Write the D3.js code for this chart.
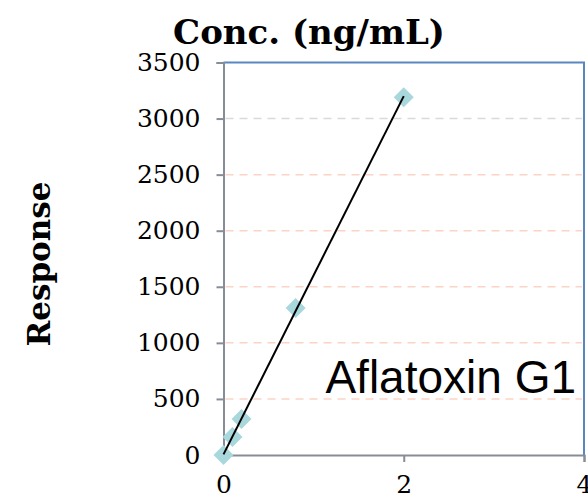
<!DOCTYPE html>
<html><head><meta charset="utf-8">
<script src="https://cdn.jsdelivr.net/npm/d3@7"></script>
<style>html,body{margin:0;padding:0;background:#fff;}</style>
</head><body>
<script>
const concValues = [0, 0.1, 0.2, 0.8, 2];
const responseValues = [0, 160, 320, 1310, 3190];
const yTicks = [0, 500, 1000, 1500, 2000, 2500, 3000, 3500];
const xTicks = [0, 2, 4];
const titleText = "Conc. (ng/mL)";
const yLabel = "Response";
const seriesLabel = "Aflatoxin G1";

const W = 588, H = 498;
const m = {left: 223.5, right: 4, top: 62.5, bottom: 43};
const svg = d3.select("body").append("svg").attr("width", W).attr("height", H);
const x = d3.scaleLinear().domain([0, 4]).range([m.left, W - m.right]);
const y = d3.scaleLinear().domain([0, 3500]).range([H - m.bottom, m.top]);
const serif = "DejaVu Serif";

// gridlines
svg.append("g").selectAll("line").data(yTicks.filter(d => d > 0 && d < 3500)).join("line")
  .attr("x1", x(0) + 2).attr("x2", x(4) - 2)
  .attr("y1", d => y(d)).attr("y2", d => y(d))
  .attr("stroke", d => d === 3000 ? "#d9d9d9" : "#fcd3c4")
  .attr("stroke-width", 1.5).attr("stroke-dasharray", "8,6");

// top & right border (blue)
svg.append("path")
  .attr("d", `M${x(0)},${y(3500)}H${x(4)}V${y(0)}`)
  .attr("fill", "none").attr("stroke", "#5a87c2").attr("stroke-width", 2);

// y axis
const yAxis = d3.axisLeft(y).tickValues(yTicks).tickSize(7).tickFormat(d3.format("d"));
const gy = svg.append("g").attr("transform", `translate(${x(0)},0)`).call(yAxis);
gy.select(".domain").attr("stroke", "#878d96").attr("stroke-width", 2);
gy.selectAll(".tick line").attr("stroke", "#878d96").attr("stroke-width", 2);
gy.selectAll(".tick text").attr("font-family", serif).attr("font-size", 25).attr("fill", "#000").attr("x", -23);

// x axis
const xAxis = d3.axisBottom(x).tickValues(xTicks).tickSize(7).tickFormat(d3.format("d"));
const gx = svg.append("g").attr("transform", `translate(0,${y(0)})`).call(xAxis);
gx.select(".domain").attr("stroke", "#878d96").attr("stroke-width", 2);
gx.selectAll(".tick line").attr("stroke", "#878d96").attr("stroke-width", 2)
  .attr("opacity", d => d === 0 ? 0 : 1);
gx.selectAll(".tick text").attr("font-family", serif).attr("font-size", 25).attr("fill", "#000").attr("y", 20);

// markers
const pts = concValues.map((c, i) => ({c, r: responseValues[i]}));
svg.append("g").selectAll("path").data(pts).join("path")
  .attr("d", d3.symbol(d3.symbolSquare, 200))
  .attr("transform", d => `translate(${x(d.c)},${y(d.r)}) rotate(45)`)
  .attr("fill", "#a9d8dc");

// linear trendline (least squares)
const mx = d3.mean(concValues), my = d3.mean(responseValues);
const sxy = d3.sum(pts, d => (d.c - mx) * (d.r - my));
const sxx = d3.sum(pts, d => (d.c - mx) ** 2);
const slope = sxy / sxx, icpt = my - slope * mx;
const x0 = d3.min(concValues), x1 = d3.max(concValues);
svg.append("line")
  .attr("x1", x(x0)).attr("y1", y(icpt + slope * x0))
  .attr("x2", x(x1)).attr("y2", y(icpt + slope * x1))
  .attr("stroke", "#000").attr("stroke-width", 2);

// title
svg.append("text").attr("x", 309).attr("y", 44).attr("text-anchor", "middle")
  .attr("font-family", serif).attr("font-weight", "bold").attr("font-size", 34)
  .text(titleText);

// y label
svg.append("text").attr("transform", "translate(50,264) rotate(-90)").attr("text-anchor", "middle")
  .attr("font-family", serif).attr("font-weight", "bold").attr("font-size", 31)
  .text(yLabel);

// series label
svg.append("text").attr("x", 576).attr("y", 393).attr("text-anchor", "end")
  .attr("font-family", "Liberation Sans, Arial, sans-serif").attr("font-size", 46)
  .text(seriesLabel);
</script>
</body></html>
